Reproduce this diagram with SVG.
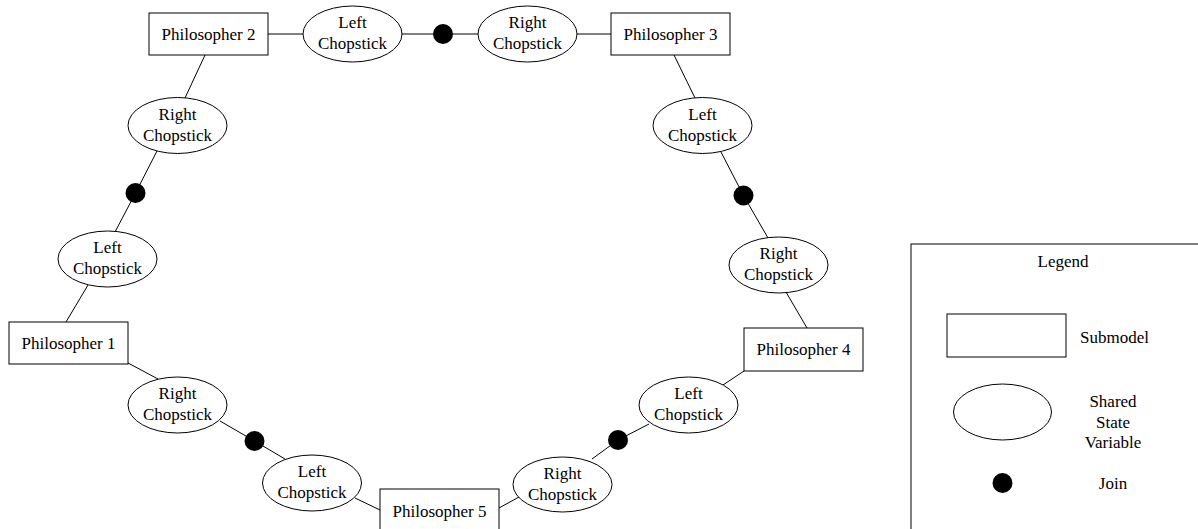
<svg xmlns="http://www.w3.org/2000/svg" width="1198" height="529" viewBox="0 0 1198 529" font-family="'Liberation Serif', 'Times New Roman', Times, 'DejaVu Serif', serif" font-size="17">
  <style>
    .box { fill: #ffffff; stroke: #000000; stroke-width: 1; }
    .ssv { fill: #ffffff; stroke: #000000; stroke-width: 1; }
    .join { fill: #000000; stroke: none; }
    .edge { stroke: #000000; stroke-width: 1; fill: none; }
    text { font-family: 'Liberation Serif', 'Times New Roman', Times, 'DejaVu Serif', serif; font-size: 17px; fill: #000000; text-anchor: middle; }
  </style>

  <rect x="0" y="0" width="1198" height="529" fill="#ffffff"/>

  <!-- connectors -->
  <g id="connectors">
    <!-- top chain: Philosopher 2 to Philosopher 3 -->
    <line class="edge" x1="268" y1="34" x2="303" y2="34"/>
    <line class="edge" x1="402" y1="34" x2="443" y2="34"/>
    <line class="edge" x1="443" y1="34" x2="478" y2="34"/>
    <line class="edge" x1="577" y1="34" x2="611" y2="34"/>
    <!-- left chain: Philosopher 2 to Philosopher 1 -->
    <line class="edge" x1="205" y1="55" x2="185" y2="98"/>
    <line class="edge" x1="157" y1="151" x2="135.5" y2="193"/>
    <line class="edge" x1="135.5" y1="193" x2="115" y2="232"/>
    <line class="edge" x1="88" y1="285" x2="66" y2="322"/>
    <!-- right chain: Philosopher 3 to Philosopher 4 -->
    <line class="edge" x1="674" y1="55" x2="695" y2="98"/>
    <line class="edge" x1="721" y1="152" x2="743.5" y2="195.5"/>
    <line class="edge" x1="743.5" y1="195.5" x2="768" y2="238"/>
    <line class="edge" x1="786" y1="292" x2="807" y2="328"/>
    <!-- lower left chain: Philosopher 1 to Philosopher 5 -->
    <line class="edge" x1="128" y1="363" x2="158" y2="379"/>
    <line class="edge" x1="220" y1="421" x2="254.5" y2="441"/>
    <line class="edge" x1="254.5" y1="441" x2="285" y2="459"/>
    <line class="edge" x1="355" y1="498" x2="380" y2="510"/>
    <!-- lower right chain: Philosopher 5 to Philosopher 4 -->
    <line class="edge" x1="499" y1="508" x2="519" y2="497"/>
    <line class="edge" x1="592" y1="459" x2="618" y2="440"/>
    <line class="edge" x1="618" y1="440" x2="649" y2="424"/>
    <line class="edge" x1="723" y1="385" x2="744" y2="371"/>
  </g>

  <!-- philosophers (submodels) -->
  <g id="philosopher1">
    <rect class="box" x="9" y="322" width="119" height="42"/>
    <text x="68.5" y="349">Philosopher 1</text>
  </g>
  <g id="philosopher2">
    <rect class="box" x="149" y="13" width="119" height="42"/>
    <text x="208.5" y="40">Philosopher 2</text>
  </g>
  <g id="philosopher3">
    <rect class="box" x="611" y="13" width="119" height="42"/>
    <text x="670.5" y="40">Philosopher 3</text>
  </g>
  <g id="philosopher4">
    <rect class="box" x="744" y="328" width="119" height="43"/>
    <text x="803.5" y="355">Philosopher 4</text>
  </g>
  <g id="philosopher5">
    <rect class="box" x="380" y="489" width="119" height="50"/>
    <text x="439.5" y="517">Philosopher 5</text>
  </g>

  <!-- shared state variables -->
  <g id="p2-left">
    <ellipse class="ssv" cx="352.5" cy="34" rx="49.5" ry="28"/>
    <text x="352.5" y="28">Left</text>
    <text x="352.5" y="49">Chopstick</text>
  </g>
  <g id="p3-right">
    <ellipse class="ssv" cx="527.5" cy="34" rx="49.5" ry="28"/>
    <text x="527.5" y="28">Right</text>
    <text x="527.5" y="49">Chopstick</text>
  </g>
  <g id="p2-right">
    <ellipse class="ssv" cx="177.5" cy="125.5" rx="49.5" ry="28"/>
    <text x="177.5" y="119.5">Right</text>
    <text x="177.5" y="140.5">Chopstick</text>
  </g>
  <g id="p1-left">
    <ellipse class="ssv" cx="107.5" cy="259" rx="49.5" ry="28"/>
    <text x="107.5" y="253">Left</text>
    <text x="107.5" y="274">Chopstick</text>
  </g>
  <g id="p3-left">
    <ellipse class="ssv" cx="702.5" cy="125.5" rx="49.5" ry="28"/>
    <text x="702.5" y="119.5">Left</text>
    <text x="702.5" y="140.5">Chopstick</text>
  </g>
  <g id="p4-right">
    <ellipse class="ssv" cx="778.5" cy="265" rx="49.5" ry="28"/>
    <text x="778.5" y="259">Right</text>
    <text x="778.5" y="280">Chopstick</text>
  </g>
  <g id="p1-right">
    <ellipse class="ssv" cx="177.5" cy="405" rx="49.5" ry="28"/>
    <text x="177.5" y="399">Right</text>
    <text x="177.5" y="420">Chopstick</text>
  </g>
  <g id="p5-left">
    <ellipse class="ssv" cx="312" cy="483" rx="49.5" ry="28"/>
    <text x="312" y="477">Left</text>
    <text x="312" y="498">Chopstick</text>
  </g>
  <g id="p5-right">
    <ellipse class="ssv" cx="562.5" cy="484.5" rx="49.5" ry="27.5"/>
    <text x="562.5" y="478.5">Right</text>
    <text x="562.5" y="499.5">Chopstick</text>
  </g>
  <g id="p4-left">
    <ellipse class="ssv" cx="688.5" cy="405" rx="49.5" ry="28"/>
    <text x="688.5" y="399">Left</text>
    <text x="688.5" y="420">Chopstick</text>
  </g>

  <!-- joins -->
  <g id="join-top"><circle class="join" cx="443" cy="34" r="10"/></g>
  <g id="join-upper-left"><circle class="join" cx="135.5" cy="193" r="10"/></g>
  <g id="join-upper-right"><circle class="join" cx="743.5" cy="195.5" r="10"/></g>
  <g id="join-lower-left"><circle class="join" cx="254.5" cy="441" r="10"/></g>
  <g id="join-lower-right"><circle class="join" cx="618" cy="440" r="10"/></g>

  <!-- legend -->
  <g id="legend">
    <rect class="box" x="911" y="244" width="300" height="300"/>
    <text x="1063" y="267">Legend</text>
    <rect class="box" x="947" y="314" width="119" height="43"/>
    <text x="1114.5" y="343">Submodel</text>
    <ellipse class="ssv" cx="1002.5" cy="412" rx="49" ry="28"/>
    <text x="1113" y="407">Shared</text>
    <text x="1113" y="428">State</text>
    <text x="1113" y="448">Variable</text>
    <circle class="join" cx="1002.5" cy="483" r="10"/>
    <text x="1113" y="489">Join</text>
  </g>
</svg>
